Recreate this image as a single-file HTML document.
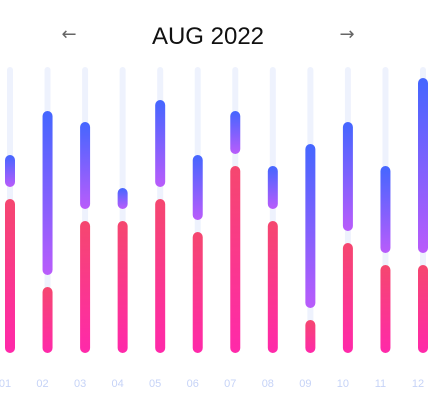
<!DOCTYPE html>
<html><head><meta charset="utf-8"><style>
html,body{margin:0;padding:0;background:#fff;width:434px;height:401px;overflow:hidden}
svg{display:block}
</style></head><body>
<svg id="chart" width="434" height="401" xmlns="http://www.w3.org/2000/svg">
<defs>
<linearGradient id="gBlue" x1="0" y1="0" x2="0" y2="1"><stop offset="0" stop-color="#4466ff"/><stop offset="1" stop-color="#b95cfb"/></linearGradient>
<linearGradient id="gPink" x1="0" y1="0" x2="0" y2="1"><stop offset="0" stop-color="#f5476f"/><stop offset="1" stop-color="#ff29aa"/></linearGradient>
</defs>
<text x="69" y="40" text-anchor="middle" font-family="DejaVu Sans, sans-serif" font-size="18" fill="#666">←</text>
<text x="347" y="40" text-anchor="middle" font-family="DejaVu Sans, sans-serif" font-size="18" fill="#666">→</text>
<text x="208" y="44" text-anchor="middle" font-family="Liberation Sans, sans-serif" font-size="24" fill="#111">AUG 2022</text>
<g id="bars"></g>
</svg>
<script>
const categories = ["01","02","03","04","05","06","07","08","09","10","11","12"];
const pinkValues = [14,6,12,12,14,11,17,12,3,10,8,8];
const blueValues = [4,16,9,3,9,7,5,5,16,11,9,17];
const xs0 = 10, xStep = (423 - 10) / 11;
const baseY = 353, unit = 11, gap = 12, trackTop = 67;
function xPos(i){ return xs0 + i * xStep; }
function yPos(v){ return baseY - v * unit; }
const g = document.getElementById('bars');
const NS = 'http://www.w3.org/2000/svg';
function rect(x,y,w,h,fill,name){
  const r = document.createElementNS(NS,'rect');
  r.setAttribute('x',x-w/2); r.setAttribute('y',y); r.setAttribute('width',w); r.setAttribute('height',Math.max(h,0));
  r.setAttribute('rx',w/2); r.setAttribute('fill',fill);
  
  
  g.appendChild(r);
}
categories.forEach((c,i)=>{
  const x = xPos(i);
  rect(x, trackTop, 6, baseY - trackTop, '#eef2fd', 'track-' + c);
  const pt = yPos(pinkValues[i]);
  rect(x, pt, 10, baseY - pt, 'url(#gPink)', 'pink-bar-' + c);
  const bt = pt - blueValues[i] * unit;
  rect(x, bt, 10, (pt - gap) - bt, 'url(#gBlue)', 'blue-bar-' + c);
  const t = document.createElementNS(NS,'text');
  t.setAttribute('x', x - 5); t.setAttribute('y', 387);
  t.setAttribute('text-anchor','middle');
  t.setAttribute('font-family','Liberation Sans, sans-serif');
  t.setAttribute('font-size','11'); t.setAttribute('fill','#c6d3f7');
  t.textContent = c;
  
  
  g.appendChild(t);
});
</script>
</body></html>
